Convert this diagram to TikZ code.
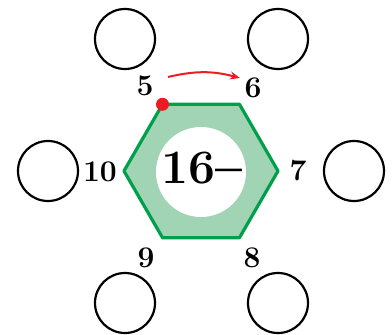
\documentclass[tikz,border=0pt]{standalone}
\usepackage{fontspec}
\usepackage{graphicx}
\usetikzlibrary{arrows.meta}
\definecolor{hexgreen}{RGB}{0,160,75}
\definecolor{hexfill}{RGB}{160,212,180}
\definecolor{dotred}{RGB}{237,28,36}
\tikzset{
  slot/.style={draw, circle, line width=2.2pt, minimum size=60pt, inner sep=0pt},
  num/.style={font=\fontsize{30}{32}\selectfont\bfseries, inner sep=0pt}
}
\begin{document}
\begin{tikzpicture}[x=1pt, y=1pt, >={Stealth[length=10pt, width=8pt]}]
  \useasboundingbox (-201,-164) rectangle (191,171);

  % Hexagon
  \draw[hexgreen, fill=hexfill, line width=3.2pt, line join=round]
    (0:77) -- (60:77) -- (120:77) -- (180:77) -- (240:77) -- (300:77) -- cycle;
  \fill[white] (0,-1) circle (45);
  \node[font=\fontsize{48}{50}\selectfont\bfseries, inner sep=0pt] (mid) at (1,-1) {16\raisebox{-0.17em}{\scalebox{1}[1.6]{--}}};

  % Numbers round the hexagon
  \node[num] (n5) at (-56,85) {5};
  \node[num] (n6) at (52,83) {6};
  \node[num] (n7) at (97,0) {7};
  \node[num] (n8) at (51,-87) {8};
  \node[num] (n9) at (-55,-87) {9};
  \node[num] (n10) at (-101,-1) {10};

  % Empty circles
  \node[slot] (c5) at (-76,132) {};
  \node[slot] (c6) at (77,132) {};
  \node[slot] (c7) at (153,0) {};
  \node[slot] (c8) at (77,-132) {};
  \node[slot] (c9) at (-76,-132) {};
  \node[slot] (c10) at (-153,0) {};

  % Start point and direction
  \coordinate (start) at (120:77);
  \fill[dotred] (start) circle (6.5);
  \coordinate (arrS) at (-33,94);
  \coordinate (arrE) at (39,93);
  \draw[->, dotred, line width=2pt] (arrS) to[bend left=14] (arrE);
\end{tikzpicture}
\end{document}
